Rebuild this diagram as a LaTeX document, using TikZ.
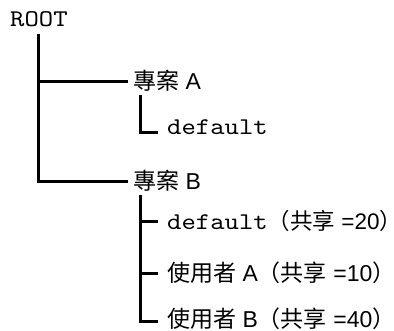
\documentclass[tikz,border=0pt]{standalone}
\usepackage{fontspec}
\setmainfont{Liberation Sans}
\setmonofont{lmmono10-regular.otf}[FakeStretch=1.14]
\newfontfamily\cjk{Noto Sans CJK TC}
\usetikzlibrary{calc}
\begin{document}
\begin{tikzpicture}[x=1pt,y=-1pt,
  lbl/.style={anchor=base west,inner sep=0pt,font=\fontsize{23}{27}\selectfont},
  mono/.style={font=\fontsize{24}{27}\selectfont\ttfamily},
  tree/.style={line width=3pt}]
\useasboundingbox (0,0) rectangle (394,331);
\node[lbl,mono] (root) at (10,27) {ROOT};
\node[lbl] (pa) at (133,90) {{\cjk 專案} A};
\node[lbl,mono] (da) at (167,135) {default};
\node[lbl] (pb) at (133,190) {{\cjk 專案} B};
\node[lbl,font=\fontsize{22.5}{27}\selectfont] (b1) at (167,230) {{\ttfamily\fontsize{24}{27}\selectfont default}{\cjk （共享} =20{\cjk ）}\kern-0.4em};
\node[lbl] (b2) at (167,282) {{\cjk 使用者} A{\cjk （共享} =10{\cjk ）}};
\node[lbl] (b3) at (167,328) {{\cjk 使用者} B{\cjk （共享} =40{\cjk ）}};
\coordinate (rtop) at ($(root.south)+(0,7)$);
\coordinate (atop) at ($(pa.south west)+(7,3)$);
\coordinate (btop) at ($(pb.south west)+(7,3)$);
\coordinate (dend) at ($(da.base west)+(-9,-2)$);
\coordinate (b3end) at ($(b3.west)+(-9,2)$);
\draw[tree] (rtop) |- ([xshift=-5pt]pb.west);
\draw[tree] (rtop |- pa.west) -- ([xshift=-5pt]pa.west);
\draw[tree] (atop) |- (dend);
\draw[tree] (btop) |- (b3end);
\draw[tree] (btop |- b1.west) -- ([xshift=-9pt]b1.west);
\draw[tree] (btop |- b2.west) -- ([xshift=-9pt]b2.west);
\end{tikzpicture}
\end{document}
